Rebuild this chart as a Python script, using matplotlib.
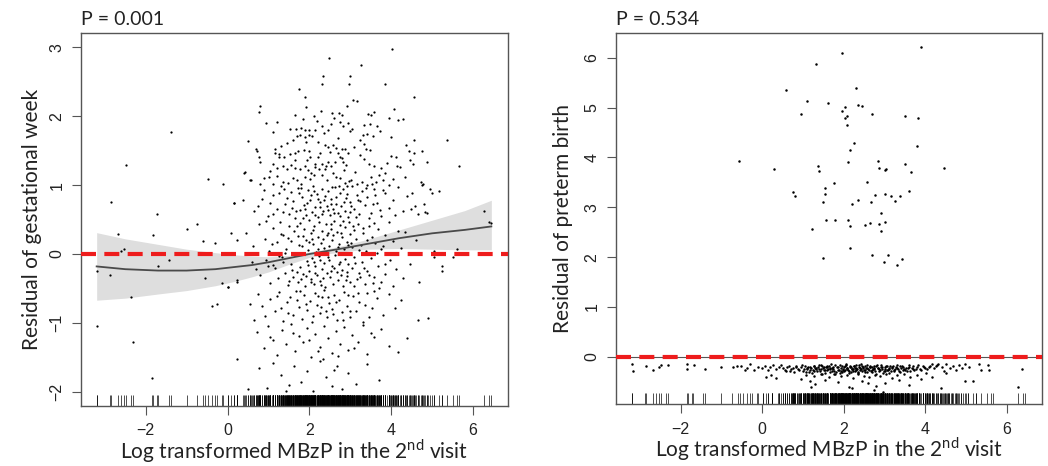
import numpy as np
import matplotlib
matplotlib.use("Agg")
import matplotlib.pyplot as plt

plt.rcParams["font.family"] = ["Liberation Sans", "DejaVu Sans"]
plt.rcParams["mathtext.fontset"] = "custom"
plt.rcParams["mathtext.rm"] = "Lato"

# ---- left panel: residual of gestational week vs log MBzP (visit 2) ----
ga_x = [
    # y > 2
    2.47, 2.33, 2.30, 1.74, 1.89, 0.79, 0.78, 1.92, 2.29, 2.12,
    4.01, 3.27, 3.00, 2.96, 3.84, 3.07, 3.16, 4.55, 4.06, 2.72,
    2.80, 3.43, 3.50, 4.30, 4.18, 2.91, 1.21, 2.55, 3.58, 1.65,
    # 1.5 .. 2
    1.52, 1.68, 1.79, 1.89, 1.98, 1.70, 1.78, 1.90, 2.00, 2.07,
    2.15, 2.31, 2.35, 2.45, 1.93, 2.20, 2.39, 2.45, 0.51, 1.10,
    2.60, 2.75, 2.83, 2.94, 3.04, 2.99, 3.33, 3.49, 3.66, 4.00,
    3.30, 3.40, 3.56, 3.24, 4.57, 4.37, 4.43, 4.55, 4.76, 2.58,
    2.64, 2.80, 2.88, 3.08, 3.33, 3.39, 3.49, 5.37, 1.30, 1.45,
    0.70, 1.60, 2.70, 1.15, 1.85, 2.18, 2.52, 3.72, 3.95, 0.95,
    # 1 .. 1.5
    0.72, 0.76, 0.80, 1.17, 1.27, 1.37, 1.53, 1.66, 1.72, 1.86,
    1.98, 2.02, 2.21, 2.27, 2.45, 2.76, 2.62, 2.54, 2.13, 2.40,
    2.81, 2.82, 2.90, 3.33, 3.47, 3.57, 3.76, 3.89, 4.00, 4.12,
    4.15, 4.22, 4.47, 4.54, 4.88, 0.41, 0.57, 1.11, 1.21, 1.35,
    1.45, 1.56, 1.66, 1.78, 1.90, 1.96, 2.15, 2.23, 2.31, 2.39,
    0.80, 0.90, 1.02, 1.12, 1.22, 1.35, 1.48, 1.60, 1.70, 1.80,
    1.90, 2.02, 2.12, 2.30, 2.42, 2.58, 2.66, 2.74, 2.88, 2.96,
    3.01, 3.17, 3.29, 3.40, 3.54, 3.62, 3.80, 3.94, 4.72, 4.76,
    4.78, 4.96, 0.42, 0.55, 1.25, 1.95, 2.50, 2.85, 3.12, 3.70,
    4.35, 1.05, 2.05, 2.70, 3.25, 3.85, 1.65, 2.95, 3.50, 4.05,
    # 0.5 .. 1
    0.38, 0.65, 0.75, 0.90, 1.00, 1.10, 1.20, 1.30, 1.40, 1.50,
    1.55, 1.60, 1.65, 1.72, 1.78, 1.82, 1.88, 1.92, 1.97, 2.02,
    2.06, 2.10, 2.14, 2.18, 2.22, 2.26, 2.30, 2.34, 2.38, 2.42,
    2.46, 2.50, 2.54, 2.58, 2.62, 2.66, 2.70, 2.74, 2.78, 2.82,
    2.86, 2.90, 2.95, 3.00, 3.05, 3.10, 3.16, 3.22, 3.28, 3.35,
    3.42, 3.50, 3.58, 3.66, 3.75, 3.85, 3.95, 4.05, 4.18, 4.30,
    4.49, 4.58, 4.66, 4.80, 4.88, 5.00, 1.12, 1.35, 1.58, 1.75,
    1.85, 1.95, 2.05, 2.15, 2.25, 2.35, 2.45, 2.55, 2.65, 2.75,
    2.85, 2.93, 3.03, 3.13, 3.25, 3.38, 3.55, 3.72, 0.85, 1.05,
    1.25, 1.45, 1.68, 1.90, 2.12, 2.32, 2.52, 2.72, 2.92, 3.18,
    3.45, 3.80, 4.10, 4.40, 1.38, 1.80, 2.20, 2.60, 3.00, 3.60,
    # 0 .. 0.5
    0.45, 0.62, 0.78, 0.92, 1.02, 1.12, 1.20, 1.28, 1.36, 1.44,
    1.50, 1.56, 1.62, 1.68, 1.73, 1.78, 1.83, 1.88, 1.92, 1.96,
    2.00, 2.04, 2.08, 2.12, 2.16, 2.20, 2.24, 2.28, 2.32, 2.36,
    2.40, 2.44, 2.48, 2.52, 2.56, 2.60, 2.64, 2.68, 2.72, 2.76,
    2.80, 2.84, 2.88, 2.92, 2.96, 3.00, 3.05, 3.10, 3.15, 3.20,
    3.26, 3.32, 3.38, 3.45, 3.52, 3.60, 3.68, 3.76, 3.85, 3.95,
    4.05, 4.17, 4.35, 4.62, 5.04, 5.61, 6.39, 6.45, 0.24, 0.15,
    1.08, 1.30, 1.48, 1.70, 1.85, 1.98, 2.10, 2.22, 2.34, 2.46,
    2.58, 2.70, 2.82, 2.94, 3.07, 3.22, 3.40, 3.58, 3.80, 4.25,
    0.95, 1.40, 1.75, 2.06, 2.30, 2.54, 2.78, 3.02, 3.30, 3.65,
    # -0.5 .. 0
    0.23, 0.24, 0.02, 0.60, 0.80, 0.95, 1.05, 1.15, 1.24, 1.32,
    1.40, 1.47, 1.54, 1.60, 1.66, 1.72, 1.78, 1.84, 1.89, 1.94,
    1.99, 2.03, 2.07, 2.11, 2.15, 2.19, 2.23, 2.27, 2.31, 2.35,
    2.39, 2.43, 2.47, 2.51, 2.55, 2.59, 2.63, 2.67, 2.71, 2.75,
    2.79, 2.83, 2.87, 2.91, 2.95, 3.00, 3.05, 3.10, 3.16, 3.22,
    3.28, 3.35, 3.42, 3.50, 3.58, 3.67, 3.76, 3.86, 3.98, 4.12,
    4.28, 4.45, 5.25, 5.25, 5.04, -1.69, -3.20, 1.10, 1.35, 1.58,
    1.80, 1.97, 2.13, 2.29, 2.45, 2.61, 2.77, 2.93, 3.08, 3.25,
    3.45, 3.70, 0.70, 1.00, 1.25, 1.50, 1.70, 1.92, 2.12, 2.33,
    2.53, 2.73, 2.90, 3.12, 3.33, 3.55, 3.85, 4.05, 2.05, 2.25,
    # -1 .. -0.5
    0.55, 0.75, 0.92, 1.05, 1.15, 1.25, 1.35, 1.45, 1.52, 1.60,
    1.67, 1.74, 1.81, 1.88, 1.95, 2.01, 2.07, 2.13, 2.19, 2.25,
    2.31, 2.37, 2.43, 2.49, 2.55, 2.61, 2.67, 2.73, 2.79, 2.85,
    2.92, 2.99, 3.06, 3.14, 3.22, 3.31, 3.40, 3.52, 3.65, 3.80,
    3.95, 4.10, 4.25, 4.66, 4.91, -0.37, -0.25, 0.02, 0.85, 1.20,
    1.48, 1.70, 1.92, 2.10, 2.28, 2.46, 2.64, 2.82, 3.00, 3.18,
    3.36, 3.58, 1.30, 1.78, 2.20, 2.58, 2.95, 3.45, 0.65, 2.40,
    # -1.5 .. -1
    0.72, 0.88, 1.00, 1.12, 1.22, 1.32, 1.42, 1.55, 1.65, 1.75,
    1.85, 1.95, 2.05, 2.15, 2.25, 2.35, 2.45, 2.55, 2.65, 2.75,
    2.85, 2.95, 3.05, 3.18, 3.30, 3.42, 3.58, 3.75, 3.95, 4.17,
    4.39, -3.18, -2.30, 1.05, 1.60, 2.20, 2.70, 3.10, 3.50, 2.00,
    # below -1.5
    0.23, 0.76, 0.51, 0.96, -1.85, 1.10, 1.30, 1.50, 1.62, 1.80,
    1.95, 2.10, 2.25, 2.40, 2.55, 2.68, 2.80, 2.95, 3.15, 3.40,
    3.70, 2.33, 1.42, 2.60,
    # isolated
    -2.85, -2.48, -1.39, -2.67, -2.53, -1.83, -1.00, -0.47, -0.10, -0.59,
    -0.30, 0.15, 5.65, -2.88, -2.61, -2.35, -1.72, -1.44, -0.74, -0.54,
    -0.13, 0.09, 4.50, 4.67, 4.83, 5.17, 5.52, 6.27,
]
ga_y = [
    2.84, 2.58, 2.47, 2.39, 2.28, 2.14, 2.06, 2.13, 2.07, 2.00,
    2.98, 2.74, 2.58, 2.47, 2.46, 2.24, 2.22, 2.28, 2.10, 2.05,
    2.02, 2.03, 2.01, 1.96, 1.94, 2.15, 1.92, 2.04, 2.06, 2.01,
    1.82, 1.82, 1.83, 1.80, 1.80, 1.71, 1.72, 1.70, 1.73, 1.71,
    1.80, 1.85, 1.76, 1.80, 1.62, 1.63, 1.58, 1.55, 1.64, 1.77,
    1.97, 1.91, 1.85, 1.90, 1.81, 1.78, 1.87, 1.88, 1.86, 1.69,
    1.72, 1.74, 1.71, 1.66, 1.65, 1.58, 1.50, 1.47, 1.49, 1.58,
    1.54, 1.52, 1.53, 1.55, 1.60, 1.52, 1.51, 1.65, 1.56, 1.61,
    1.53, 1.66, 1.68, 1.52, 1.96, 1.93, 1.88, 1.79, 1.98, 1.90,
    1.49, 1.41, 1.34, 1.46, 1.45, 1.40, 1.45, 1.47, 1.50, 1.51,
    1.50, 1.41, 1.40, 1.46, 1.34, 1.41, 1.34, 1.27, 1.30, 1.27,
    1.39, 1.34, 1.29, 1.38, 1.31, 1.27, 1.25, 1.32, 1.42, 1.40,
    1.27, 1.26, 1.37, 1.30, 1.34, 1.18, 1.07, 1.31, 1.25, 1.27,
    1.23, 1.29, 1.25, 1.24, 1.27, 1.22, 1.26, 1.23, 1.30, 1.23,
    1.02, 1.10, 1.12, 1.02, 1.13, 1.05, 1.03, 1.10, 1.08, 1.01,
    1.12, 1.09, 1.15, 1.14, 1.07, 1.17, 1.12, 1.10, 1.03, 1.06,
    1.07, 1.01, 1.05, 1.00, 1.02, 1.04, 1.07, 1.00, 1.05, 1.00,
    1.01, 0.95, 1.19, 1.07, 1.40, 1.36, 1.48, 1.22, 1.19, 1.15,
    1.12, 1.21, 1.18, 1.46, 1.44, 1.18, 1.37, 1.46, 1.12, 1.09,
    0.78, 0.62, 0.70, 0.93, 0.55, 0.85, 0.66, 0.98, 0.72, 0.58,
    0.90, 0.77, 0.52, 0.96, 0.64, 0.82, 0.71, 0.57, 0.93, 0.79,
    0.61, 0.99, 0.68, 0.87, 0.54, 0.75, 0.95, 0.63, 0.84, 0.70,
    0.91, 0.56, 0.80, 0.66, 0.97, 0.73, 0.59, 0.88, 0.69, 0.94,
    0.62, 0.81, 0.53, 0.76, 0.98, 0.65, 0.86, 0.58, 0.92, 0.71,
    0.83, 0.60, 0.95, 0.74, 0.55, 0.89, 0.67, 0.79, 0.97, 0.62,
    0.66, 0.70, 0.58, 0.73, 0.59, 0.89, 0.58, 0.61, 0.67, 0.88,
    0.52, 0.74, 0.85, 0.57, 0.68, 0.78, 0.64, 0.97, 0.82, 0.55,
    0.75, 0.99, 0.69, 0.54, 0.77, 0.96, 0.72, 0.64, 0.80, 0.74,
    0.88, 0.81, 0.63, 0.66, 0.91, 0.58, 0.73, 0.99, 0.87, 0.78,
    0.52, 0.93, 0.56, 0.84, 0.95, 0.96, 0.80, 0.60, 0.61, 0.85,
    0.31, 0.12, 0.44, 0.22, 0.05, 0.38, 0.17, 0.47, 0.28, 0.08,
    0.41, 0.19, 0.34, 0.02, 0.26, 0.45, 0.11, 0.36, 0.21, 0.06,
    0.49, 0.30, 0.14, 0.40, 0.03, 0.24, 0.46, 0.16, 0.33, 0.09,
    0.43, 0.27, 0.12, 0.37, 0.20, 0.48, 0.05, 0.32, 0.15, 0.42,
    0.25, 0.08, 0.39, 0.18, 0.46, 0.29, 0.10, 0.35, 0.22, 0.44,
    0.13, 0.31, 0.04, 0.41, 0.24, 0.16, 0.37, 0.07, 0.28, 0.47,
    0.19, 0.33, 0.32, 0.20, 0.04, 0.08, 0.47, 0.45, 0.21, 0.74,
    0.14, 0.29, 0.23, 0.40, 0.26, 0.18, 0.35, 0.07, 0.22, 0.31,
    0.27, 0.10, 0.48, 0.13, 0.40, 0.06, 0.20, 0.45, 0.12, 0.09,
    0.48, 0.02, 0.13, 0.22, 0.02, 0.44, 0.30, 0.16, 0.38, 0.02,
    -0.38, -0.40, -0.48, -0.12, -0.30, -0.08, -0.42, -0.21, -0.35, -0.05,
    -0.27, -0.45, -0.14, -0.33, -0.02, -0.40, -0.19, -0.29, -0.47, -0.10,
    -0.24, -0.36, -0.06, -0.44, -0.17, -0.31, -0.03, -0.39, -0.22, -0.13,
    -0.48, -0.28, -0.09, -0.34, -0.18, -0.43, -0.01, -0.26, -0.37, -0.11,
    -0.23, -0.46, -0.07, -0.32, -0.15, -0.41, -0.20, -0.04, -0.36, -0.27,
    -0.12, -0.44, -0.25, -0.06, -0.33, -0.18, -0.40, -0.29, -0.09, -0.22,
    -0.35, -0.14, -0.17, -0.24, -0.04, -0.18, -0.24, -0.16, -0.12, -0.23,
    -0.36, -0.16, -0.27, -0.45, -0.05, -0.20, -0.31, -0.26, -0.47, -0.34,
    -0.30, -0.49, -0.22, -0.18, -0.03, -0.39, -0.26, -0.32, -0.12, -0.35,
    -0.25, -0.15, -0.38, -0.13, -0.21, -0.42, -0.14, -0.46, -0.41, -0.08,
    -0.72, -0.58, -0.90, -0.65, -0.83, -0.55, -0.97, -0.70, -0.62, -0.88,
    -0.53, -0.77, -0.94, -0.60, -0.81, -0.68, -0.99, -0.57, -0.74, -0.86,
    -0.63, -0.52, -0.92, -0.71, -0.80, -0.59, -0.95, -0.66, -0.84, -0.55,
    -0.76, -0.91, -0.61, -0.82, -0.69, -0.98, -0.56, -0.78, -0.64, -0.89,
    -0.58, -0.79, -0.67, -0.95, -0.93, -0.76, -0.72, -0.48, -0.75, -0.61,
    -0.85, -0.66, -0.72, -0.90, -0.77, -0.63, -0.70, -0.96, -0.82, -0.57,
    -0.74, -0.53, -0.79, -0.54, -0.61, -0.87, -0.59, -0.92, -0.95, -0.83,
    -1.13, -1.37, -1.05, -1.24, -1.46, -1.10, -1.31, -1.02, -1.41, -1.19,
    -1.28, -1.08, -1.49, -1.16, -1.35, -1.04, -1.22, -1.43, -1.12, -1.30,
    -1.06, -1.39, -1.18, -1.27, -1.03, -1.45, -1.21, -1.09, -1.33, -1.42,
    -1.22, -1.05, -1.27, -1.20, -1.15, -1.40, -1.48, -1.36, -1.14, -1.25,
    -1.52, -1.66, -1.96, -1.94, -1.80, -1.58, -1.75, -1.90, -1.62, -1.85,
    -1.70, -1.98, -1.55, -1.78, -1.92, -1.63, -1.96, -1.72, -1.88, -1.60,
    -1.82, -1.52, -1.99, -1.68,
    0.76, 1.29, 1.77, 0.29, 0.08, 0.27, 0.37, 1.09, 1.02, 0.19,
    0.16, 0.74, 1.28, -0.30, 0.05, -0.62, 0.58, -0.08, 0.44, -0.35,
    -0.42, 0.31, 0.88, -0.40, 0.61, 0.92, -0.05, 0.63,
]

# penalised spline fit with 95% band
fit_x = [-3.2, -2.5, -1.7, -1.0, -0.3, 0.15, 0.6, 1.0, 1.5, 2.0, 2.4, 2.8, 3.4, 4.2, 5.0, 5.8, 6.45]
fit_y = [-0.18, -0.22, -0.24, -0.24, -0.22, -0.19, -0.16, -0.12, -0.06, 0.0, 0.04, 0.08, 0.145, 0.23, 0.30, 0.35, 0.40]
fit_hi = [0.31, 0.22, 0.14, 0.07, 0.02, -0.01, -0.03, -0.04, -0.02, 0.03, 0.07, 0.12, 0.21, 0.35, 0.49, 0.63, 0.78]
fit_lo = [-0.67, -0.64, -0.58, -0.53, -0.46, -0.40, -0.33, -0.26, -0.15, -0.05, 0.0, 0.03, 0.07, 0.08, 0.07, 0.06, 0.06]

# ---- right panel: residual of preterm birth ----
pt_x = [
    # preterm cases
    3.88, 1.96, 1.33, 0.59, 2.29, 1.11, 1.62, 2.35, 2.45, 2.02,
    1.95, 0.94, 2.68, 2.07, 2.02, 3.49, 3.83, 2.09, 2.25, 3.80,
    2.16, -0.58, 2.11, 2.83, 3.50, 0.28, 1.38, 1.39, 2.87, 3.01,
    3.03, 3.64, 1.77, 2.56, 0.76, 0.80, 1.53, 1.53, 1.48, 2.76,
    3.00, 3.15, 3.38, 3.26, 3.61, 2.34, 2.21, 2.67, 1.56, 1.79,
    2.10, 2.16, 2.52, 2.63, 2.86, 3.01, 2.90, 2.91, 1.22, 2.15,
    1.49, 2.70, 3.09, 2.99, 3.43, 3.31, 4.45,
    # term births, dense band
    0.52, 0.58, 0.66, 0.71, 0.79, 0.84, 0.90, 0.97, 1.02, 1.08,
    1.12, 1.17, 1.21, 1.26, 1.30, 1.34, 1.39, 1.43, 1.47, 1.51,
    1.55, 1.58, 1.62, 1.65, 1.69, 1.72, 1.76, 1.79, 1.83, 1.86,
    1.90, 1.93, 1.96, 2.00, 2.03, 2.06, 2.09, 2.12, 2.16, 2.19,
    2.22, 2.25, 2.28, 2.31, 2.35, 2.38, 2.41, 2.44, 2.48, 2.51,
    2.54, 2.58, 2.61, 2.65, 2.68, 2.72, 2.75, 2.79, 2.83, 2.86,
    2.90, 2.94, 2.98, 3.02, 3.06, 3.10, 3.14, 3.19, 3.23, 3.28,
    3.33, 3.38, 3.43, 3.48, 3.54, 3.60, 3.66, 3.72, 3.79, 3.86,
    3.93, 4.00, 4.08, 4.16, 4.25, 0.55, 0.62, 0.69, 0.75, 0.82,
    0.88, 0.94, 1.00, 1.05, 1.10, 1.15, 1.19, 1.24, 1.28, 1.32,
    1.36, 1.41, 1.45, 1.49, 1.53, 1.57, 1.60, 1.64, 1.67, 1.71,
    1.74, 1.78, 1.81, 1.85, 1.88, 1.91, 1.95, 1.98, 2.01, 2.05,
    2.08, 2.11, 2.14, 2.17, 2.21, 2.24, 2.27, 2.30, 2.33, 2.37,
    2.40, 2.43, 2.46, 2.50, 2.53, 2.56, 2.60, 2.63, 2.66, 2.70,
    2.73, 2.77, 2.81, 2.84, 2.88, 2.92, 2.96, 3.00, 3.04, 3.08,
    3.12, 3.16, 3.21, 3.25, 3.30, 3.35, 3.40, 3.46, 3.51, 3.57,
    3.63, 3.69, 3.76, 3.83, 3.90, 3.97, 4.04, 4.12, 4.20, 4.28,
    1.08, 1.27, 1.44, 1.63, 1.77, 1.94, 2.07, 2.22, 2.36, 2.49,
    2.62, 2.76, 2.89, 3.03, 3.17, 3.31, 3.47, 3.62, 3.80, 4.02,
    1.97, 2.02, 2.07, 2.13, 2.18, 2.23, 2.29, 2.34, 2.39, 2.45,
    2.52, 2.57, 2.63, 2.68, 2.74, 2.80, 2.86, 2.93, 3.00, 1.92,
    1.73, 1.66, 1.59, 1.52, 1.46, 1.40, 1.33, 1.26, 1.18, 1.10,
    3.05, 3.11, 3.18, 3.24, 3.31, 3.37, 3.44, 3.52, 3.60, 3.70,
    1.17, 1.20, 1.30, 2.13, 2.21, 2.74, 2.78, 3.60, 4.37, 1.85,
    2.45, 3.00, 3.35, 0.95, 2.60, 3.90, 1.55, 2.95, 4.15, 0.35,
    -3.19, -3.17, -2.84, -2.68, -2.53, -2.47, -2.31, -1.85, -1.85, -1.67,
    -1.39, -1.00, -0.72, -0.62, -0.52, -0.42, -0.37, -0.31, -0.20, -0.10,
    0.00, 0.08, 0.14, 0.20, 0.27, 0.33, 0.40, 0.45, 0.10, 0.22,
    4.31, 4.40, 4.50, 4.50, 4.60, 4.68, 4.75, 4.82, 4.97, 5.06,
    4.97, 5.16, 5.32, 5.36, 5.54, 5.56, 6.27, 6.37, 4.45, 4.90,
]
pt_y = [
    6.22, 6.09, 5.87, 5.36, 5.40, 5.13, 5.10, 5.05, 5.04, 5.02,
    4.93, 4.88, 4.88, 4.82, 4.78, 4.82, 4.79, 4.64, 4.28, 4.23,
    4.14, 3.92, 3.90, 3.93, 3.87, 3.77, 3.83, 3.73, 3.79, 3.75,
    3.77, 3.71, 3.48, 3.51, 3.30, 3.23, 3.38, 3.27, 3.11, 3.24,
    3.27, 3.22, 3.22, 3.13, 3.33, 3.14, 3.07, 3.11, 2.75, 2.74,
    2.74, 2.63, 2.65, 2.69, 2.66, 2.70, 2.89, 2.53, 2.57, 2.18,
    1.98, 2.05, 2.05, 1.90, 1.97, 1.85, 3.78,
    -0.22, -0.28, -0.19, -0.25, -0.31, -0.21, -0.27, -0.17, -0.24, -0.30,
    -0.20, -0.26, -0.33, -0.18, -0.23, -0.29, -0.16, -0.25, -0.35, -0.21,
    -0.27, -0.19, -0.24, -0.31, -0.15, -0.22, -0.28, -0.34, -0.20, -0.26,
    -0.17, -0.23, -0.30, -0.21, -0.27, -0.14, -0.25, -0.32, -0.19, -0.24,
    -0.29, -0.18, -0.22, -0.26, -0.33, -0.16, -0.24, -0.28, -0.20, -0.31,
    -0.23, -0.17, -0.27, -0.21, -0.30, -0.25, -0.19, -0.34, -0.22, -0.28,
    -0.16, -0.24, -0.29, -0.20, -0.26, -0.32, -0.18, -0.23, -0.27, -0.21,
    -0.25, -0.30, -0.19, -0.24, -0.28, -0.17, -0.22, -0.27, -0.20, -0.25,
    -0.18, -0.23, -0.21, -0.15, -0.19, -0.26, -0.20, -0.29, -0.23, -0.18,
    -0.25, -0.21, -0.28, -0.19, -0.24, -0.30, -0.22, -0.27, -0.18, -0.25,
    -0.21, -0.29, -0.17, -0.23, -0.32, -0.20, -0.26, -0.18, -0.22, -0.28,
    -0.24, -0.17, -0.30, -0.21, -0.26, -0.33, -0.19, -0.24, -0.28, -0.16,
    -0.22, -0.27, -0.20, -0.31, -0.24, -0.18, -0.29, -0.22, -0.25, -0.20,
    -0.27, -0.15, -0.23, -0.26, -0.19, -0.30, -0.24, -0.18, -0.28, -0.21,
    -0.25, -0.29, -0.17, -0.23, -0.27, -0.20, -0.32, -0.24, -0.18, -0.27,
    -0.22, -0.29, -0.19, -0.25, -0.17, -0.28, -0.22, -0.20, -0.26, -0.23,
    -0.29, -0.19, -0.24, -0.17, -0.27, -0.21, -0.25, -0.19, -0.23, -0.17,
    -0.36, -0.38, -0.34, -0.40, -0.35, -0.39, -0.37, -0.42, -0.35, -0.38,
    -0.41, -0.36, -0.39, -0.34, -0.43, -0.37, -0.35, -0.40, -0.36, -0.33,
    -0.26, -0.19, -0.23, -0.28, -0.21, -0.25, -0.17, -0.30, -0.23, -0.19,
    -0.27, -0.22, -0.20, -0.26, -0.23, -0.19, -0.25, -0.21, -0.28, -0.29,
    -0.20, -0.25, -0.21, -0.27, -0.19, -0.24, -0.22, -0.29, -0.20, -0.23,
    -0.19, -0.25, -0.21, -0.28, -0.23, -0.18, -0.26, -0.22, -0.20, -0.24,
    -0.49, -0.60, -0.55, -0.61, -0.63, -0.66, -0.58, -0.56, -0.62, -0.50,
    -0.48, -0.53, -0.47, -0.45, -0.52, -0.44, -0.46, -0.70, -0.40, -0.42,
    -0.15, -0.29, -0.18, -0.27, -0.21, -0.16, -0.17, -0.15, -0.25, -0.17,
    -0.25, -0.21, -0.21, -0.19, -0.18, -0.26, -0.22, -0.15, -0.27, -0.20,
    -0.23, -0.18, -0.27, -0.21, -0.17, -0.24, -0.20, -0.16, -0.40, -0.37,
    -0.14, -0.20, -0.15, -0.33, -0.22, -0.18, -0.26, -0.17, -0.15, -0.20,
    -0.49, -0.48, -0.15, -0.26, -0.17, -0.27, -0.60, -0.25, -0.28, -0.23,
]

p_left = "P = 0.001"
p_right = "P = 0.534"
xlab = r"Log transformed MBzP in the 2$^{\mathrm{nd}}$ visit"

W, H = 1048, 466
fig = plt.figure(figsize=(W / 100, H / 100), dpi=100)
ax1 = fig.add_axes([80.7 / W, 1 - 405.7 / H, 427 / W, 373 / H])
ax2 = fig.add_axes([615.7 / W, 1 - 404.3 / H, 426 / W, 371.6 / H])

label_font = dict(family=["Lato", "DejaVu Sans"], fontsize=15, color="#222222")


def style_axes(ax, ylabel, ptext, ylab_x):
    ax.set_xlim(-3.59, 6.85)
    ax.set_xticks([-2, 0, 2, 4, 6])
    ax.set_xticklabels(["\u22122", "0", "2", "4", "6"])
    for s in ax.spines.values():
        s.set_color("#555555")
        s.set_linewidth(1.0)
    ax.tick_params(direction="out", length=6.5, width=0.8, color="#555555",
                   labelsize=11.5, labelcolor="#222222")
    ax.tick_params(axis="x", pad=6)
    ax.tick_params(axis="y", pad=5)
    plt.setp(ax.get_yticklabels(), rotation=90, va="center")
    ax.set_xlabel(xlab, **label_font)
    ax.xaxis.label.set_va("center")
    ax.xaxis.set_label_coords(0.5, -45.5 / 373)
    ax.set_ylabel(ylabel, **label_font)
    ax.yaxis.label.set_va("center")
    ax.yaxis.set_label_coords(ylab_x, 0.5)
    ax.text(0.0, 1.02, ptext, transform=ax.transAxes, ha="left",
            va="baseline", family=["Lato", "DejaVu Sans"], fontsize=14,
            color="#222222")
    # rug along the bottom
    ax.vlines(ga_x, 0, 0.03, transform=ax.get_xaxis_transform(),
              color="black", linewidth=0.6, alpha=0.8)


# left panel
ax1.fill_between(fit_x, fit_lo, fit_hi, color="#dedede", linewidth=0, zorder=1)
ax1.plot(fit_x, fit_y, color="#4a4a4a", linewidth=1.3, zorder=3)
ax1.scatter(ga_x, ga_y, s=2.6, color="black", linewidths=0, zorder=2)
ax1.axhline(0, color="#ee1c1c", linewidth=3, dashes=(3.6, 2.0), zorder=4)
ax1.set_ylim(-2.20, 3.21)
ax1.set_yticks([-2, -1, 0, 1, 2, 3])
ax1.set_yticklabels(["\u22122", "\u22121", "0", "1", "2", "3"])
style_axes(ax1, "Residual of gestational week", p_left, -(80.7 - 32) / 427)

# right panel
ax2.axhline(0, color="#555555", linewidth=0.8, zorder=1)
ax2.scatter(pt_x, pt_y, s=3.2, color="black", linewidths=0, zorder=2)
ax2.axhline(0, color="#ee1c1c", linewidth=3, dashes=(3.6, 2.0), zorder=4)
ax2.set_ylim(-0.95, 6.5)
ax2.set_yticks([0, 1, 2, 3, 4, 5, 6])
style_axes(ax2, "Residual of preterm birth", p_right, -(615.7 - 563) / 426)

fig.savefig("out.png", dpi=100)
